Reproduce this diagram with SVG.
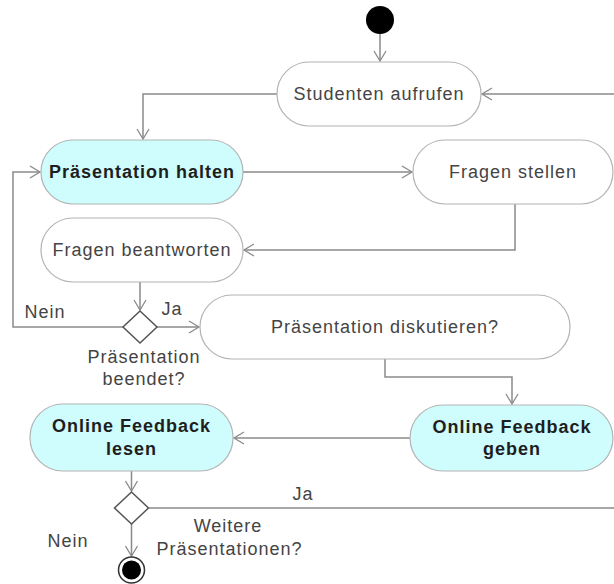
<svg xmlns="http://www.w3.org/2000/svg" width="614" height="584" viewBox="0 0 614 584">
<defs>
<marker id="arr" markerUnits="userSpaceOnUse" markerWidth="14" markerHeight="14" refX="11" refY="7" orient="auto">
<path d="M1,1 L11,7 L1,13" fill="none" stroke="#8a8a8a" stroke-width="1.3"/>
</marker>
<style>
.act{fill:#ffffff;stroke:#b4b4b4;stroke-width:1.2}
.hl{fill:#cffcfc;stroke:#b4b4b4;stroke-width:1.2}
.t{font-family:"Liberation Sans",Arial,sans-serif;font-size:18px;letter-spacing:1px;fill:#444;text-anchor:middle}
.b{font-family:"Liberation Sans",Arial,sans-serif;font-size:18px;letter-spacing:1px;font-weight:bold;fill:#1e1e1e;text-anchor:middle}
.c{fill:none;stroke:#8a8a8a;stroke-width:1.5}
.ca{fill:none;stroke:#8a8a8a;stroke-width:1.5;marker-end:url(#arr)}
.dia{fill:#ffffff;stroke:#555;stroke-width:1.5}
</style>
</defs>
<rect width="614" height="584" fill="#ffffff"/>
<g id="connectors">
<path class="ca" d="M380,34 V61"/>
<path class="ca" d="M277,94 H143 V139"/>
<path class="ca" d="M243,172 H412"/>
<path class="ca" d="M515,204 V250 H244"/>
<path class="ca" d="M140,282 V310"/>
<path class="ca" d="M123,327 H13 V172 H40"/>
<path class="ca" d="M157,327 H199"/>
<path class="ca" d="M385,359 V377 H512 V404"/>
<path class="ca" d="M410,438 H234"/>
<path class="ca" d="M131.5,471 V491"/>
<path class="ca" d="M149,508 H616 V94 H482"/>
<path class="ca" d="M131.5,524 V556"/>
</g>
<g id="start"><circle cx="380" cy="20" r="14" fill="#000"/></g>
<g id="studenten_aufrufen"><rect class="act" x="277" y="62" width="204" height="64" rx="32"/><text class="t" x="379" y="100">Studenten aufrufen</text></g>
<g id="praesentation_halten"><rect class="hl" x="41" y="140" width="202" height="64" rx="32"/><text class="b" x="142" y="178">Präsentation halten</text></g>
<g id="fragen_stellen"><rect class="act" x="413" y="140" width="200" height="64" rx="32"/><text class="t" x="513" y="178">Fragen stellen</text></g>
<g id="fragen_beantworten"><rect class="act" x="41" y="218" width="202" height="64" rx="32"/><text class="t" x="142" y="256">Fragen beantworten</text></g>
<g id="decision1"><polygon class="dia" points="140,311 157,327 140,343 123,327"/>
<text class="t" x="45" y="318">Nein</text>
<text class="t" x="172" y="315">Ja</text>
<text class="t" x="144" y="363">Präsentation</text>
<text class="t" x="144" y="385">beendet?</text></g>
<g id="praesentation_diskutieren"><rect class="act" x="200" y="295" width="370" height="64" rx="32"/><text class="t" x="385" y="333">Präsentation diskutieren?</text></g>
<g id="feedback_geben"><rect class="hl" x="410" y="405" width="203" height="66" rx="33"/><text class="b" x="512" y="433">Online Feedback</text><text class="b" x="512" y="455">geben</text></g>
<g id="feedback_lesen"><rect class="hl" x="30" y="404" width="203" height="67" rx="33"/><text class="b" x="131.5" y="432">Online Feedback</text><text class="b" x="131.5" y="455">lesen</text></g>
<g id="decision2"><polygon class="dia" points="131.5,492 148.5,508 131.5,524 114.5,508"/>
<text class="t" x="303" y="500">Ja</text>
<text class="t" x="228" y="532">Weitere</text>
<text class="t" x="229.5" y="555">Präsentationen?</text>
<text class="t" x="68" y="547">Nein</text></g>
<g id="end"><circle cx="131.5" cy="570" r="13" fill="#fff" stroke="#333" stroke-width="1.5"/><circle cx="131.5" cy="570" r="9.5" fill="#000"/></g>
</svg>
